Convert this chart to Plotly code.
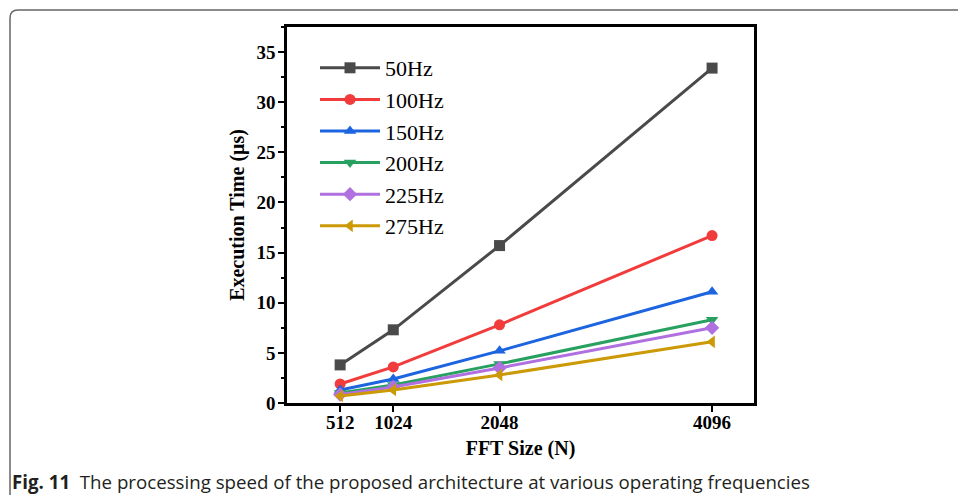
import plotly.graph_objects as go

fft_sizes = [512, 1024, 2048, 4096]
series_names = ["50Hz", "100Hz", "150Hz", "200Hz", "225Hz", "275Hz"]
t_50 = [3.8, 7.3, 15.7, 33.4]
t_100 = [1.9, 3.6, 7.8, 16.7]
t_150 = [1.3, 2.4, 5.2, 11.1]
t_200 = [1.0, 1.8, 3.9, 8.3]
t_225 = [0.85, 1.6, 3.5, 7.5]
t_275 = [0.7, 1.3, 2.8, 6.1]
y_ticks = [0, 5, 10, 15, 20, 25, 30, 35]

values = [t_50, t_100, t_150, t_200, t_225, t_275]
colors = ["#4a4a4a", "#f23b3b", "#1c64e0", "#28a060", "#b070e0", "#cc9a06"]
symbols = ["square", "circle", "triangle-up", "triangle-down", "diamond", "triangle-left"]

W, H = 958, 495
L, R, T, B = 287, 754, 27, 403

def px(x):
    return (x - L) / (R - L)

def py(y):
    return (B - y) / (B - T)

fig = go.Figure()
for i, (name, vals) in enumerate(zip(series_names, values)):
    fig.add_trace(go.Scatter(
        x=fft_sizes, y=vals, name=name, mode="lines+markers",
        line=dict(color=colors[i], width=3),
        marker=dict(symbol=symbols[i], size=11, color=colors[i]),
        legendgroup=name,
    ))

fig.update_layout(
    width=W, height=H,
    margin=dict(l=L, r=W - R, t=T, b=H - B),
    paper_bgcolor="white", plot_bgcolor="white",
    showlegend=True,
    legend=dict(x=px(315), y=py(47), xanchor="left", yanchor="top",
                font=dict(family="Liberation Serif", size=22, color="black"),
                bgcolor="rgba(0,0,0,0)", traceorder="grouped", tracegroupgap=0,
                itemwidth=60),
    xaxis=dict(range=[0, 4500], tickvals=fft_sizes, ticktext=[str(v) for v in fft_sizes],
               showgrid=False, zeroline=False, showline=True, linecolor="black", linewidth=2.5,
               mirror=True, ticks="outside", ticklen=6, tickwidth=2, tickcolor="black",
               ticklabelstandoff=-6,
               tickfont=dict(family="Liberation Serif", size=19, color="black", weight="bold"),
               title=dict(text="<b>FFT Size (N)</b>", font=dict(family="Liberation Serif", size=20, color="black"), standoff=10)),
    yaxis=dict(range=[0, 37.5], tickvals=y_ticks,
               showgrid=False, zeroline=False, showline=True, linecolor="black", linewidth=2.5,
               mirror=True, ticks="outside", ticklen=6, tickwidth=2, tickcolor="black",
               ticklabelstandoff=-1,
               minor=dict(dtick=2.5, ticks="outside", ticklen=3, tickwidth=1.5, tickcolor="black"),
               tickfont=dict(family="Liberation Serif", size=19, color="black", weight="bold"),
               title=dict(text="<b>Execution Time (μs)</b>", font=dict(family="Liberation Serif", size=20, color="black"), standoff=7)),
)

# rounded frame (top and left edges)
r = 8
path = (f"M {px(10)},{py(H)} L {px(10)},{py(10 + r)} "
        f"Q {px(10)},{py(10)} {px(10 + r)},{py(10)} L {px(W)},{py(10)}")
fig.add_shape(type="path", path=path, xref="paper", yref="paper",
              line=dict(color="#666666", width=1.5), layer="above")

fig.add_annotation(
    x=px(10), y=py(481), xref="paper", yref="paper", xanchor="left", yanchor="middle",
    text="<b>Fig. 11</b>  The processing speed of the proposed architecture at various operating frequencies",
    showarrow=False, font=dict(family="Open Sans", size=18.7, color="#231f20"),
)

fig.write_html("out.html", config={"displayModeBar": False},
               post_script="document.body.style.margin='0';document.body.style.overflow='hidden';")
